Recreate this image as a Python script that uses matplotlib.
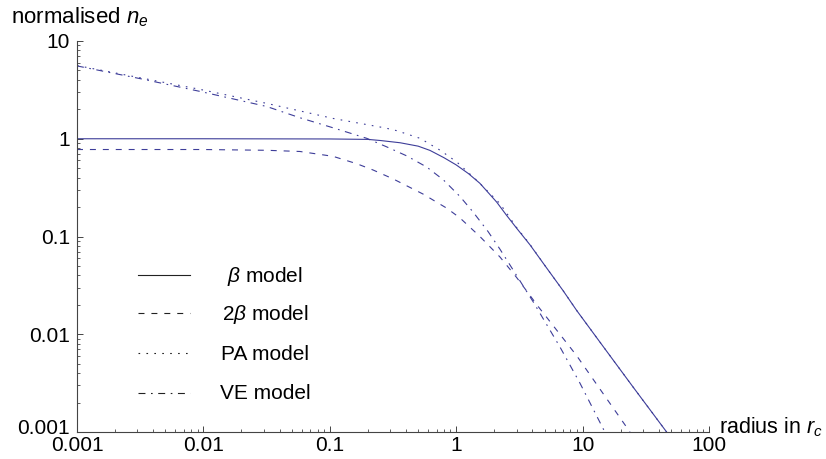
import matplotlib
matplotlib.use('Agg')
import matplotlib.pyplot as plt
import matplotlib.ticker as mticker
import matplotlib.transforms as mtransforms
from matplotlib.lines import Line2D

# values (log-log, radius in r_c vs normalised n_e)
beta_r = [0.001, 0.01, 0.1, 0.2, 0.25, 0.36, 0.5, 0.62, 0.8, 1.0, 1.25, 1.54,
          2.09, 2.5, 3.0, 3.84, 5.0, 7.0, 8.98, 15, 25, 46.2]
beta_n = [1.0, 1.0, 0.995, 0.985, 0.96, 0.91, 0.84, 0.76, 0.64, 0.54, 0.44, 0.35,
          0.225, 0.165, 0.122, 0.082, 0.051, 0.028, 0.0175, 0.0071, 0.0029, 0.001]

beta2_r = [0.001, 0.01, 0.0316, 0.058, 0.106, 0.163, 0.22, 0.316, 0.546, 0.841,
           1.07, 1.54, 2.22, 3.01, 4.47, 8.98, 14.6, 23.7]
beta2_n = [0.776, 0.776, 0.762, 0.741, 0.661, 0.556, 0.479, 0.389, 0.272, 0.195,
           0.155, 0.100, 0.0617, 0.038, 0.0191, 0.00603, 0.00245, 0.001]

pa_r = [0.001, 0.0094, 0.0317, 0.107, 0.274, 0.338, 0.518, 0.745, 1.01, 1.45,
        1.85, 2.22, 3.0, 3.84, 5.0, 7.0, 8.98, 15, 25, 46.2]
pa_n = [5.61, 3.20, 2.30, 1.61, 1.29, 1.21, 1.01, 0.764, 0.579, 0.377,
        0.275, 0.217, 0.124, 0.083, 0.051, 0.028, 0.0175, 0.0071, 0.0029, 0.001]

ve_r = [0.001, 0.00316, 0.0094, 0.0316, 0.058, 0.107, 0.196, 0.282, 0.406, 0.585,
        0.791, 1.07, 1.36, 1.79, 2.22, 2.75, 4.07, 6.62, 9.53, 15.0]
ve_n = [5.56, 4.12, 3.05, 2.14, 1.64, 1.29, 1.01, 0.826, 0.668, 0.513,
        0.380, 0.257, 0.178, 0.112, 0.0741, 0.0479, 0.0214, 0.00741, 0.00316, 0.001]

x_ticks = [0.001, 0.01, 0.1, 1, 10, 100]
x_labels = ['0.001', '0.01', '0.1', '1', '10', '100']
y_ticks = [0.001, 0.01, 0.1, 1, 10]
y_labels = ['0.001', '0.01', '0.1', '1', '10']

legend_labels = [r'$\beta$ model', r'2$\beta$ model', 'PA model', 'VE model']

plt.rcParams['font.family'] = ['Liberation Sans', 'DejaVu Sans']
plt.rcParams['mathtext.fontset'] = 'custom'
plt.rcParams['mathtext.rm'] = 'Liberation Sans'
plt.rcParams['mathtext.it'] = 'Liberation Sans:italic'
plt.rcParams['lines.scale_dashes'] = False

col = '#3d3d99'
styles = ['-', (0, (4.3, 5.0)), (0, (1.2, 4.5)), (0, (5.0, 4.0, 1.2, 4.0))]

fig = plt.figure(figsize=(8.26, 4.59), dpi=100)
ax = fig.add_axes([77 / 826, 1 - 432 / 459, 632 / 826, 391 / 459])

ax.plot(beta_r, beta_n, color=col, lw=0.8, ls=styles[0])
ax.plot(beta2_r, beta2_n, color=col, lw=0.8, ls=styles[1])
ax.plot(pa_r, pa_n, color=col, lw=0.8, ls=styles[2])
ax.plot(ve_r, ve_n, color=col, lw=0.8, ls=styles[3])

ax.set_xscale('log')
ax.set_yscale('log')
ax.set_xlim(0.001, 100)
ax.set_ylim(0.001, 10)

ax.spines['top'].set_visible(False)
ax.spines['right'].set_visible(False)
for s in ['left', 'bottom']:
    ax.spines[s].set_color('#444444')
    ax.spines[s].set_linewidth(0.8)

ax.xaxis.set_major_locator(mticker.FixedLocator(x_ticks))
ax.xaxis.set_major_formatter(mticker.FixedFormatter(x_labels))
ax.yaxis.set_major_locator(mticker.FixedLocator(y_ticks))
ax.yaxis.set_major_formatter(mticker.FixedFormatter(y_labels))
ax.xaxis.set_minor_locator(mticker.LogLocator(base=10, subs=range(2, 10)))
ax.yaxis.set_minor_locator(mticker.LogLocator(base=10, subs=range(2, 10)))
ax.xaxis.set_minor_formatter(mticker.NullFormatter())
ax.yaxis.set_minor_formatter(mticker.NullFormatter())
ax.tick_params(which='major', direction='in', length=4.5, width=0.7, color='#444444',
               labelsize=15)
ax.tick_params(which='minor', direction='in', length=2.2, width=0.6, color='#444444')
ax.tick_params(axis='x', which='major', pad=3.0)
ax.tick_params(axis='y', which='major', pad=5.0)

# lift the lowest y label a little so it sits just above the x label "0.001"
lowest = ax.get_yticklabels()[0]
lowest.set_transform(lowest.get_transform() +
                     mtransforms.ScaledTranslation(0, 4 / 72, fig.dpi_scale_trans))

fig.text(11 / 826, 1 - 23 / 459, r'normalised $n_e$', fontsize=16, va='baseline')
fig.text(719 / 826, 1 - 433 / 459, r'radius in $r_c$', fontsize=15.5, va='baseline')

# legend drawn by hand, black sample lines with centred labels
leg_y = [275, 313.3, 353.3, 392.7]
for i in range(4):
    yy = 1 - leg_y[i] / 459
    fig.add_artist(Line2D([138 / 826, 190 / 826], [yy, yy], color='#222222',
                          lw=0.8, ls=styles[i], transform=fig.transFigure))
    fig.text(265 / 826, 1 - (leg_y[i] + 6.5) / 459, legend_labels[i], fontsize=15,
             ha='center', va='baseline')

fig.savefig('out.png', dpi=100)
